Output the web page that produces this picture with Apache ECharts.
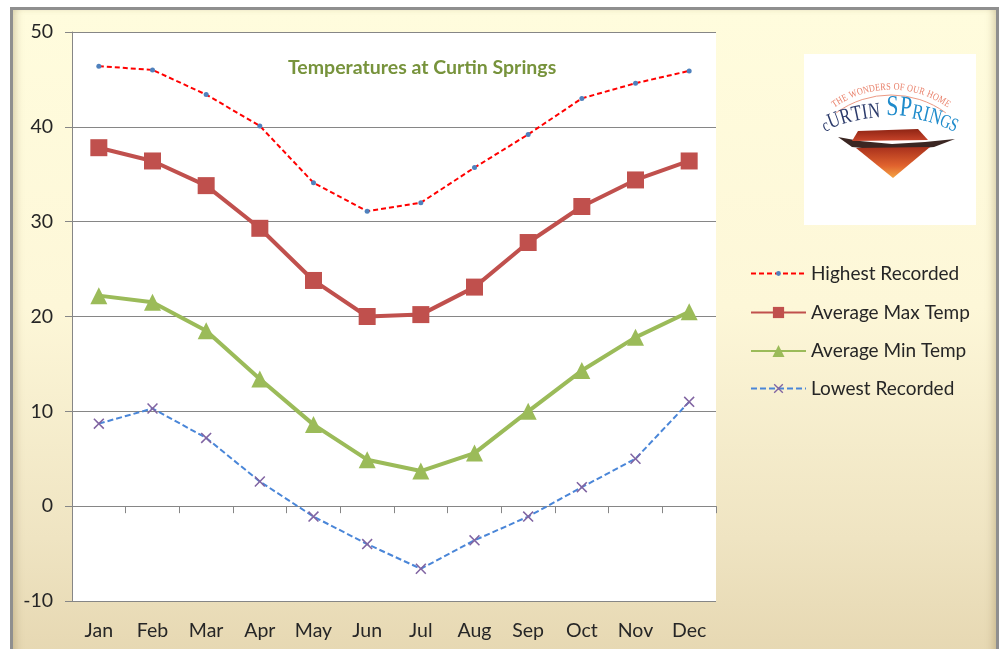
<!DOCTYPE html>
<html>
<head>
<meta charset="utf-8">
<script src="https://cdn.jsdelivr.net/npm/echarts@6/dist/echarts.min.js"></script>
<style>
  html, body { margin: 0; padding: 0; background: #ffffff; }
  #frame {
    position: absolute; left: 10px; top: 7px; width: 983px; height: 660px;
    border: 3px solid #8f8f8f;
    background: linear-gradient(to bottom, #fffcdd 0%, #fdf7d8 45%, #efe4c2 80%, #e5d6b0 100%);
    box-shadow: inset 7px 0 9px -5px rgba(130,110,60,0.35), inset -7px 0 9px -5px rgba(130,110,60,0.35);
  }
  #chart { position: absolute; left: 0; top: 0; width: 999px; height: 649px; }
</style>
</head>
<body>
<div id="frame"></div>
<div id="chart"></div>
<script>
// données
const months = ["Jan", "Feb", "Mar", "Apr", "May", "Jun", "Jul", "Aug", "Sep", "Oct", "Nov", "Dec"];
const highestRecorded = [46.4, 46.0, 43.4, 40.1, 34.1, 31.1, 32.0, 35.7, 39.2, 43.0, 44.6, 45.9];
const avgMaxTemp = [37.8, 36.4, 33.8, 29.3, 23.8, 20.0, 20.2, 23.1, 27.8, 31.6, 34.4, 36.4];
const avgMinTemp = [22.2, 21.5, 18.5, 13.4, 8.6, 4.9, 3.7, 5.6, 10.0, 14.3, 17.8, 20.5];
const lowestRecorded = [8.7, 10.3, 7.2, 2.6, -1.1, -4.0, -6.6, -3.6, -1.1, 2.0, 5.0, 11.0];
const yTicks = { min: -10, max: 50, step: 10 };

const FONT = "Lato";
const crossPath = "path://M0,1L1,0L5,4L9,0L10,1L6,5L10,9L9,10L5,6L1,10L0,9L4,5Z";

// largeur approx. des lettres (Liberation Serif) pour le logo
const charW = { C: 0.667, U: 0.722, R: 0.667, T: 0.611, I: 0.333, N: 0.722, S: 0.556, P: 0.556,
  H: 0.722, E: 0.611, W: 0.944, O: 0.722, D: 0.722, F: 0.556, M: 0.889, c: 0.444, g: 0.5, s: 0.389, " ": 0.3 };

function arcLetters(text, sizes, colors, cx, cy, R, sx) {
  const widths = text.split("").map((ch, i) => (charW[ch] || 0.6) * sizes[i] * sx);
  const total = widths.reduce((a, b) => a + b, 0);
  let acc = -total / 2;
  const out = [];
  text.split("").forEach((ch, i) => {
    const s = acc + widths[i] / 2;
    acc += widths[i];
    if (ch === " ") return;
    const th = s / R;
    out.push({
      type: "text",
      x: cx + R * Math.sin(th),
      y: cy - R * Math.cos(th),
      rotation: -th,
      scaleX: sx,
      style: {
        text: ch, x: 0, y: 0, align: "center", verticalAlign: "bottom",
        font: sizes[i] + "px 'Liberation Serif'", fill: colors[i]
      }
    });
  });
  return out;
}

const topText = "THE WONDERS OF OUR HOME";
const topLetters = arcLetters(topText, topText.split("").map(() => 10),
  topText.split("").map(() => "#e9806a"), 891, 188, 96, 0.82);
const brand = "cURTIN SPRINGS";
const brandSizes = [18, 22, 22, 22, 22, 22, 22, 29, 29, 22, 22, 22, 19, 19];
const brandColors = brand.split("").map((c, i) => i < 7 ? "#2c3b6b" : "#1f8bcb");
const brandLetters = arcLetters(brand, brandSizes, brandColors, 890, 271, 149, 0.75);

const logo = [
  { type: "rect", shape: { x: 804, y: 54, width: 172, height: 171 }, style: { fill: "#ffffff" } },
  { type: "arc", shape: { cx: 891, cy: 188, r: 93, startAngle: -Math.PI / 2 - 0.63, endAngle: -Math.PI / 2 + 0.63 },
    style: { stroke: "#ec9a84", lineWidth: 1, fill: null } },
  ...topLetters,
  ...brandLetters,
  { type: "polygon", shape: { points: [[838, 137], [860, 141], [892, 144], [925, 142], [955, 139], [934, 147], [892, 151], [852, 147]] },
    style: { fill: "#3b2622" } },
  { type: "polygon", shape: { points: [[858, 131], [918, 129], [928, 140], [852, 141]] },
    style: { fill: new echarts.graphic.LinearGradient(0, 0, 0, 1, [{ offset: 0, color: "#8e2414" }, { offset: 1, color: "#c8442a" }]) } },
  { type: "polygon", shape: { points: [[856, 148], [930, 147], [893, 178]] },
    style: { fill: new echarts.graphic.LinearGradient(0, 0, 0, 1, [{ offset: 0, color: "#a8301c" }, { offset: 0.6, color: "#e0622e" }, { offset: 1, color: "#f5a544" }]) } }
];

// une légende par série pour régler la taille du symbole
function legendFor(name, top, h) {
  return {
    data: [name], orient: "vertical", left: 750, top: top, padding: 0,
    itemWidth: 55, itemHeight: h,
    textStyle: { fontFamily: FONT, fontSize: 19, color: "#262626" }
  };
}

const chart = echarts.init(document.getElementById("chart"));

chart.setOption({
  backgroundColor: "transparent",
  animation: false,
  title: {
    text: "Temperatures at Curtin Springs",
    left: 283, top: 53,
    textStyle: { fontFamily: FONT, fontSize: 19.5, fontWeight: "bold", color: "#77933c" }
  },
  legend: [
    legendFor("Highest Recorded", 264, 6),
    legendFor("Average Max Temp", 303, 14),
    legendFor("Average Min Temp", 341.5, 15),
    legendFor("Lowest Recorded", 379, 12)
  ],
  grid: {
    left: 72, right: 283, top: 32, bottom: 48,
    show: true, backgroundColor: "#ffffff", borderWidth: 0
  },
  xAxis: [
    {
      type: "category", data: months, boundaryGap: true,
      axisLine: { onZero: true, lineStyle: { color: "#868686", width: 1 } },
      axisTick: { show: true, length: 7, lineStyle: { color: "#868686" } },
      axisLabel: { show: false }
    },
    {
      type: "category", data: months, boundaryGap: true, position: "bottom",
      axisLine: { show: false }, axisTick: { show: false },
      axisLabel: { margin: 20, fontFamily: FONT, fontSize: 19.5, color: "#262626" }
    }
  ],
  yAxis: {
    type: "value", min: yTicks.min, max: yTicks.max, interval: yTicks.step,
    axisLine: { show: true, lineStyle: { color: "#868686" } },
    axisTick: { show: true, length: 7, lineStyle: { color: "#868686" } },
    axisLabel: { margin: 19, fontFamily: FONT, fontSize: 19.5, color: "#262626" },
    splitLine: { lineStyle: { color: "#868686", width: 1 } }
  },
  series: [
    {
      name: "Highest Recorded", type: "line", data: highestRecorded,
      symbol: "circle", symbolSize: 5,
      itemStyle: { color: "#4f81bd" },
      lineStyle: { color: "#ff0000", width: 2, type: [5, 3] }
    },
    {
      name: "Average Max Temp", type: "line", data: avgMaxTemp,
      symbol: "rect", symbolSize: 17,
      itemStyle: { color: "#c0504d" },
      lineStyle: { color: "#c0504d", width: 4 }
    },
    {
      name: "Average Min Temp", type: "line", data: avgMinTemp,
      symbol: "triangle", symbolSize: 17,
      itemStyle: { color: "#9bbb59" },
      lineStyle: { color: "#9bbb59", width: 4 }
    },
    {
      name: "Lowest Recorded", type: "line", data: lowestRecorded,
      symbol: crossPath, symbolSize: 11,
      itemStyle: { color: "#8064a2" },
      lineStyle: { color: "#4a86d8", width: 2, type: [6, 3] }
    }
  ],
  graphic: logo
});
</script>
</body>
</html>
